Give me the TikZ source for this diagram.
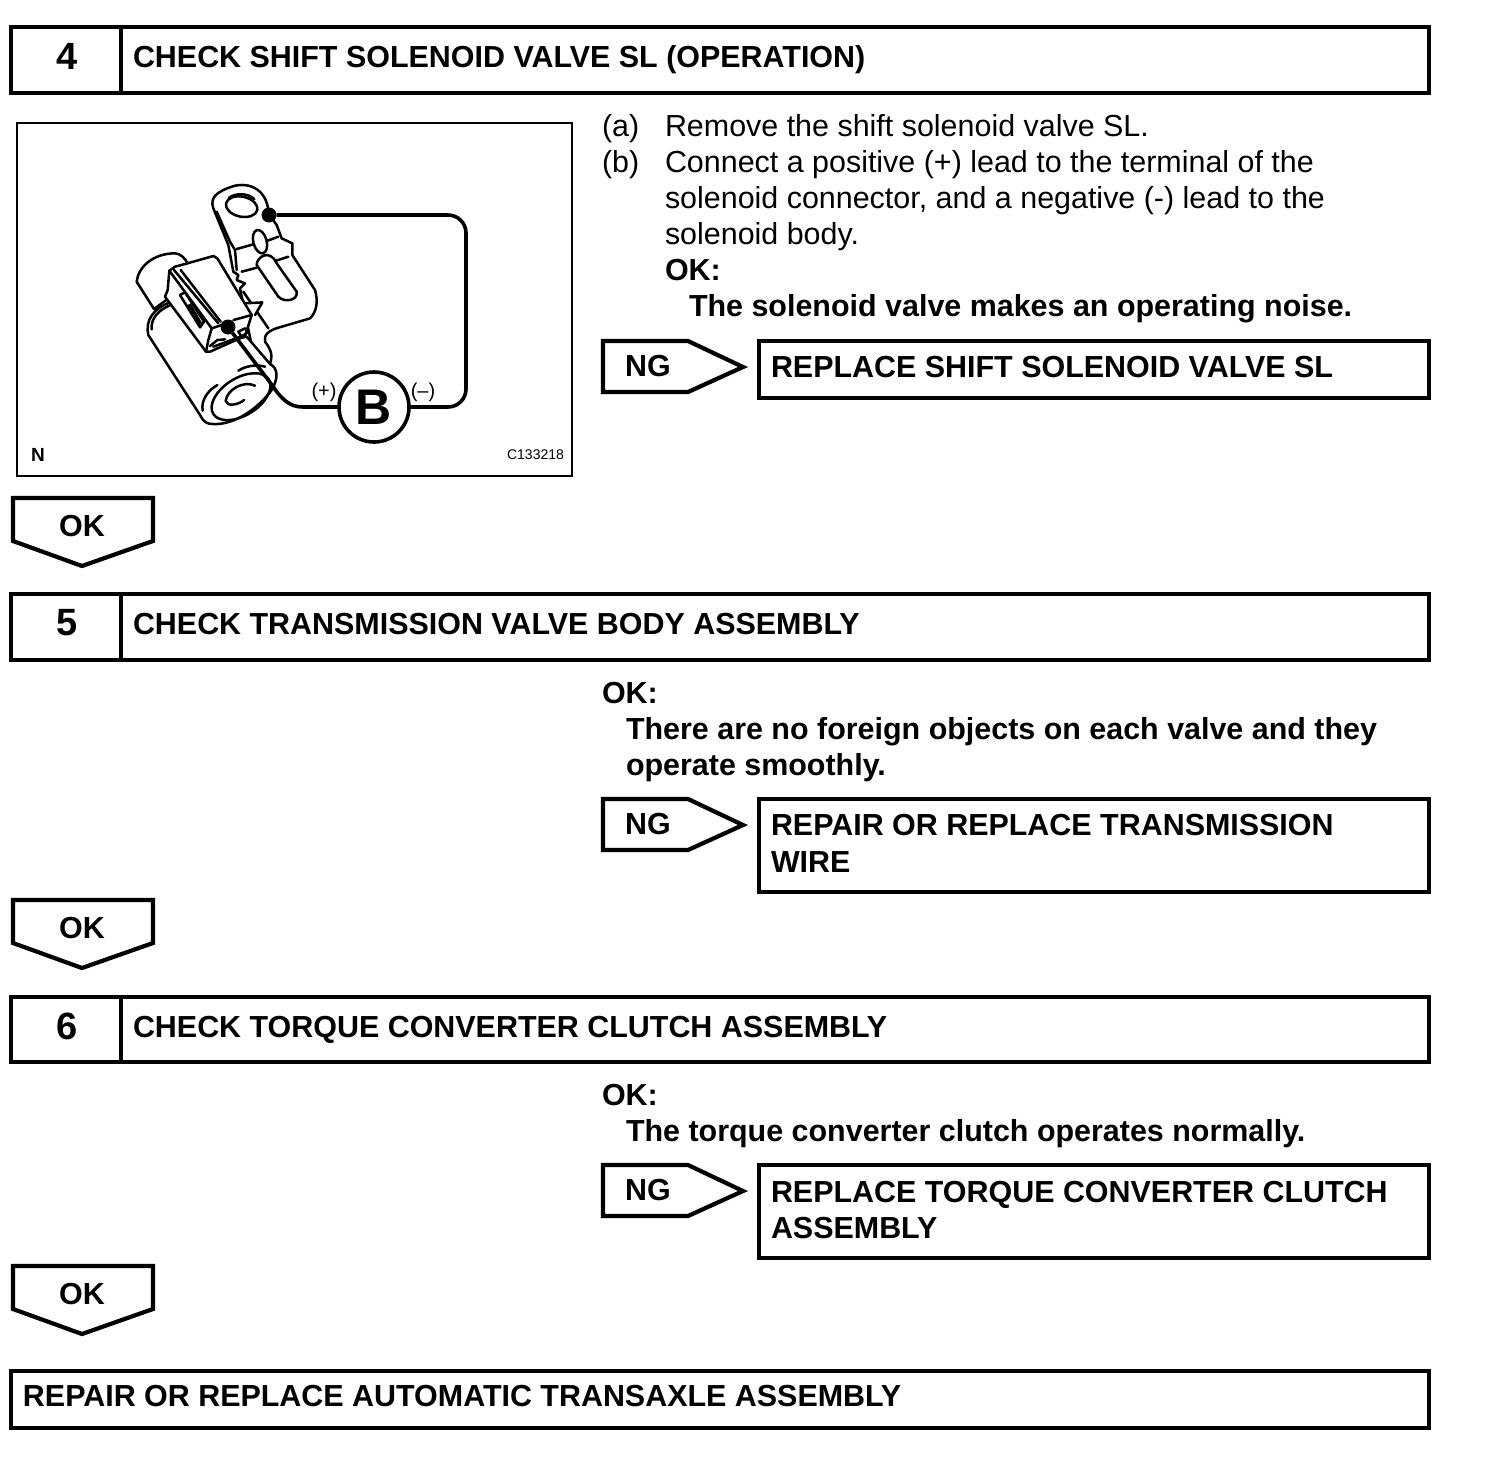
\documentclass[tikz,border=0pt]{standalone}
\usepackage{fontspec}
\setmainfont{Liberation Sans}
\newcommand{\bodysize}{\fontsize{15.22}{18}\selectfont}
\begin{document}
\begin{tikzpicture}[x=0.5pt, y=-0.5pt, line join=miter,
	heavy/.style={line width=2.1pt},
	part/.style={line width=1.25pt, line join=round, line cap=round},
	wire/.style={line width=1.8pt, rounded corners=9pt},
	every node/.style={inner sep=0pt, outer sep=0pt},
	plaintext/.style={anchor=base west, font=\bodysize},
	boldtext/.style={anchor=base west, font=\bodysize\bfseries},
	stepnum/.style={font=\fontsize{19}{22}\selectfont\bfseries}]
	\useasboundingbox (0,0) rectangle (1504,1458);
	
	% step boxes
	\foreach \ytop/\ybot/\num/\ttl in {27/93/4/CHECK SHIFT SOLENOID VALVE SL (OPERATION),594/660/5/CHECK TRANSMISSION VALVE BODY ASSEMBLY,997/1062/6/CHECK TORQUE CONVERTER CLUTCH ASSEMBLY} {
		\draw[heavy] (11,\ytop) rectangle (1429,\ybot);
		\draw[heavy] (121,\ytop) -- (121,\ybot);
		\node[stepnum] (num\num) at (67,\ytop+29) {\num};
		\node[boldtext] (title\num) at (133,\ytop+40) {\ttl};
	}
	\draw[heavy] (11,1371) rectangle (1429,1428);
	\node[boldtext] (titlefinal) at (23,1406) {REPAIR OR REPLACE AUTOMATIC TRANSAXLE ASSEMBLY};
	
	% OK flags
	\foreach \y in {498,900,1266} {
		\draw[heavy] (13,\y) -- (153,\y) -- (153,\y+43) -- (82,\y+68) -- (13,\y+43) -- cycle;
		\node[font=\bodysize\bfseries] (ok\y) at (82,\y+28) {OK};
	}
	
	% NG flags
	\foreach \y in {341,799,1165} {
		\draw[heavy] (603,\y) -- (688,\y) -- (743,\y+26) -- (688,\y+51) -- (603,\y+51) -- cycle;
		\node[font=\bodysize\bfseries] (ng\y) at (648,\y+25) {NG};
	}
	
	% repair boxes
	\draw[heavy] (759,341) rectangle (1429,398);
	\draw[heavy] (759,799) rectangle (1429,892);
	\draw[heavy] (759,1165) rectangle (1429,1258);
	\node[boldtext] (fixa) at (771,377) {REPLACE SHIFT SOLENOID VALVE SL};
	\node[boldtext] (fixb) at (771,835) {REPAIR OR REPLACE TRANSMISSION};
	\node[boldtext] (fixc) at (771,872) {WIRE};
	\node[boldtext] (fixd) at (771,1202) {REPLACE TORQUE CONVERTER CLUTCH};
	\node[boldtext] (fixe) at (771,1238) {ASSEMBLY};
	
	% step 4 text
	\node[plaintext] (lbla) at (602,136) {(a)};
	\node[plaintext] (lineA) at (665,136) {Remove the shift solenoid valve SL.};
	\node[plaintext] (lblb) at (602,172) {(b)};
	\node[plaintext] (lineB) at (665,172) {Connect a positive (+) lead to the terminal of the};
	\node[plaintext] (lineC) at (665,208) {solenoid connector, and a negative (-) lead to the};
	\node[plaintext] (lineD) at (665,244) {solenoid body.};
	\node[boldtext] (okA) at (665,280) {OK:};
	\node[boldtext] (lineE) at (689,316) {The solenoid valve makes an operating noise.};
	
	% step 5 text
	\node[boldtext] (okB) at (602,703) {OK:};
	\node[boldtext] (lineF) at (626,739) {There are no foreign objects on each valve and they};
	\node[boldtext] (lineG) at (626,775) {operate smoothly.};
	
	% step 6 text
	\node[boldtext] (okC) at (602,1105) {OK:};
	\node[boldtext] (lineH) at (626,1141) {The torque converter clutch operates normally.};
	
	% figure frame
	\draw[line width=1pt] (17,123) rectangle (572,476);
	\node[font=\fontsize{9.5}{12}\selectfont\bfseries] (figN) at (38,455) {N};
	\node[font=\fontsize{7}{9}\selectfont] (figcode) at (535.5,455) {C133218};
	
	% bracket, units of a 3x crop
	\begin{scope}[shift={(205,175)}, x=0.1667pt, y=-0.1667pt]
		\draw[part, fill=white] (105,340) -- (120,325) -- (95,315) -- (100,300) -- (85,290) -- (70,210) -- (25,100)
			.. controls (15,70) and (30,50) .. (90,32) .. controls (150,20) and (190,60) .. (190,115)
			-- (215,150) -- (230,190) -- (262,205) -- (262,240) -- (330,345) .. controls (340,380) and (335,410) .. (315,430)
			-- (230,455) .. controls (190,465) and (175,480) .. (180,500) .. controls (195,520) and (205,535) .. (195,567) -- (150,560) -- cycle;
		\draw[part] (35,110) -- (75,200) -- (90,225) -- (95,285);
		\draw[part, rotate around={-12:(110,95)}] (110,95) ellipse (48 and 30);
		\draw[part] (72,68) .. controls (90,55) and (125,52) .. (148,72);
		\draw[part, rotate around={15:(165,200)}] (165,200) ellipse (20 and 36);
		\draw[part] (155,270) .. controls (155,245) and (195,220) .. (215,265) -- (275,350)
			.. controls (280,375) and (240,385) .. (220,365) -- cycle;
		\foreach \xa/\ya/\xb/\yb in {95/222/145/208, 185/198/220/185, 110/290/155/278, 210/258/250/245, 115/350/190/460}
			\draw[part] (\xa,\ya) -- (\xb,\yb);
		\draw[part, fill=white] (118,385) -- (172,382) -- (150,420);
	\end{scope}
	
	% solenoid, units of a 3x crop
	\begin{scope}[shift={(130,240)}, x=0.1667pt, y=-0.1667pt]
		% rear stub
		\draw[part, fill=white] (72,207) -- (20,125) .. controls (25,80) and (70,40) .. (135,40) .. controls (150,40) and (165,55) .. (172,68) -- (150,150) -- cycle;
		% coil body
		\draw[part, fill=white] (55,285) .. controls (45,240) and (70,205) .. (125,185) -- (300,300) -- (350,290) -- (420,372)
			.. controls (445,385) and (445,415) .. (425,450) .. controls (380,510) and (310,555) .. (250,552)
			.. controls (230,552) and (220,545) .. (212,528) -- cycle;
		\draw[part] (65,268) .. controls (62,235) and (85,210) .. (122,195);
		\draw[part] (325,392) .. controls (345,378) and (380,372) .. (405,380);
		\draw[part] (218,512) .. controls (212,480) and (235,450) .. (262,435);
		\draw[part, rotate around={32:(333,470)}] (333,470) ellipse (98 and 56);
		\draw[part] (375,437) .. controls (340,420) and (290,450) .. (287,483) .. controls (290,500) and (325,495) .. (342,480);
		% connector
		\draw[part, fill=white] (118,92) -- (135,80) -- (165,72) -- (250,48) -- (262,55) -- (365,225) -- (345,288) -- (240,335) -- (228,335) -- (105,170) -- (113,150) -- cycle;
		\draw[part] (118,92) -- (245,265);
		\draw[part] (132,90) -- (265,250);
		\draw[part] (152,90) -- (272,245);
		\draw[part] (245,265) -- (275,255);
		\draw[part] (310,240) -- (365,225);
		\draw[part] (245,265) -- (235,300) -- (228,335);
		\draw[part] (240,318) -- (262,300) -- (285,298);
		\draw[part] (250,320) -- (345,285);
		\draw[part] (150,165) -- (165,157) -- (222,245) -- (210,262) -- cycle;
		\fill (172,195) -- (182,190) -- (216,248) -- (208,258) -- cycle;
		\draw[part] (325,275) -- (345,265) -- (355,275) -- (335,290) -- cycle;
	\end{scope}
	
	% meter and leads
	\node[draw, circle, line width=1.8pt, fill=white, minimum size=35pt, font=\fontsize{25}{30}\selectfont\bfseries] (meter) at (374,407) {B};
	\node[circle, fill=black, minimum size=7.5pt] (dotup) at (269,215) {};
	\node[circle, fill=black, minimum size=7.5pt] (dotlow) at (228,327) {};
	\coordinate (cnrup) at (466,215);
	\coordinate (cnrlow) at (466,407);
	\coordinate (bendlow) at (272,385);
	\draw[wire] (dotup) -- (cnrup) -- (cnrlow) -- (meter);
	\draw[line width=1.8pt] (dotlow) -- (bendlow) .. controls (282,400) and (290,407) .. (303,407) -- (meter);
	\node[font=\fontsize{10}{11}\selectfont] (plus) at (324,392) {(+)};
	\node[font=\fontsize{10}{11}\selectfont] (minus) at (423,392) {(–)};
\end{tikzpicture}
\end{document}
